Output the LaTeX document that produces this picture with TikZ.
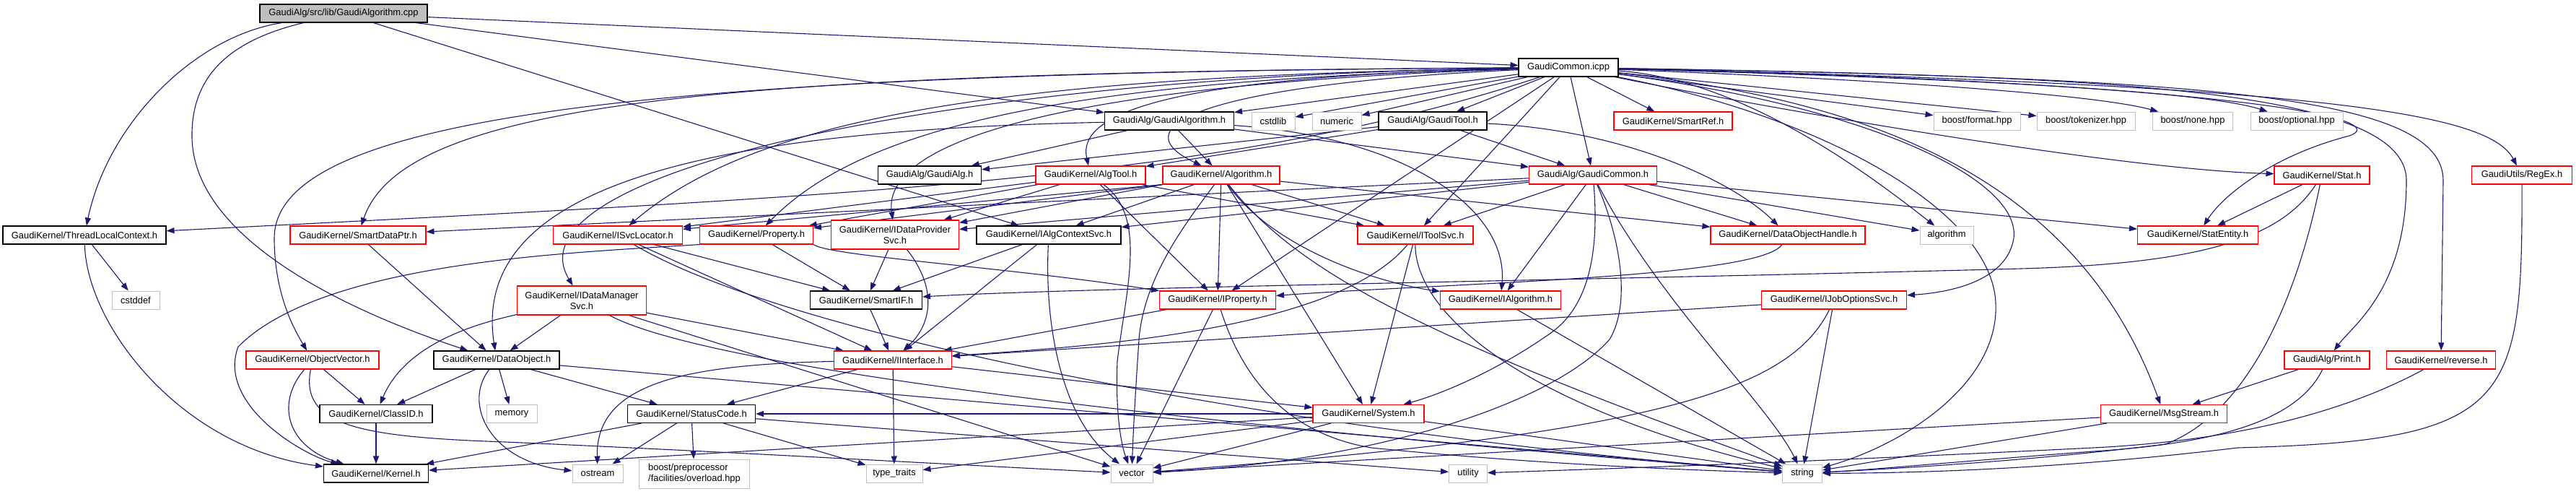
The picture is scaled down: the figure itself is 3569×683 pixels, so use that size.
\documentclass[tikz,border=0pt]{standalone}
\usepackage{fontspec}
\setmainfont{Liberation Sans}
\usetikzlibrary{arrows.meta,backgrounds}
\definecolor{edgeblue}{HTML}{191970}
\definecolor{greyc}{HTML}{BFBFBF}
\definecolor{redc}{HTML}{FF0000}
\newcommand\dgfont{\fontsize{12.9}{15}\selectfont}
\begin{document}
\begin{tikzpicture}[x=1pt,y=-1pt,
  nd/.style={draw=black,line width=1.1pt,fill=white,minimum height=25pt,inner sep=0pt,font=\dgfont},
  rednd/.style={nd,draw=redc},
  grnd/.style={nd,draw=greyc,line width=1pt},
  rootnd/.style={nd,fill=greyc},
  edg/.style={draw=edgeblue,line width=1.1pt,-{Triangle[length=11pt,width=8pt]}}]
\useasboundingbox (0,0) rectangle (3569,683);
% row 0/1
\node[rootnd,minimum width=232pt] (cpp) at (476,18.5) {GaudiAlg/src/lib/GaudiAlgorithm.cpp};
\node[nd,minimum width=138pt] (icpp) at (2173,93.5) {GaudiCommon.icpp};
% row 2
\node[nd,minimum width=179pt] (GAh) at (1620,167.5) {GaudiAlg/GaudiAlgorithm.h};
\node[grnd,minimum width=60pt] (cstdlib) at (1764,167.5) {cstdlib};
\node[grnd,minimum width=68pt] (numeric) at (1852,167.5) {numeric};
\node[nd,minimum width=150pt] (GTh) at (1985,167.5) {GaudiAlg/GaudiTool.h};
\node[rednd,minimum width=164pt] (SmartRef) at (2318,167.5) {GaudiKernel/SmartRef.h};
\node[grnd,minimum width=120pt] (format) at (2739,167.5) {boost/format.hpp};
\node[grnd,minimum width=136pt] (tokenizer) at (2890,167.5) {boost/tokenizer.hpp};
\node[grnd,minimum width=111pt] (none) at (3038,167.5) {boost/none.hpp};
\node[grnd,minimum width=128pt] (optional) at (3182,167.5) {boost/optional.hpp};
% row 3
\node[nd,minimum width=143pt] (GAlgh) at (1288,242.5) {GaudiAlg/GaudiAlg.h};
\node[rednd,minimum width=152pt] (AlgTool) at (1511,242.5) {GaudiKernel/AlgTool.h};
\node[rednd,minimum width=162pt] (Algorithm) at (1692,242.5) {GaudiKernel/Algorithm.h};
\node[rednd,minimum width=177pt] (GCh) at (2207,242.5) {GaudiAlg/GaudiCommon.h};
\node[rednd,minimum width=132pt] (Stat) at (3217,242.5) {GaudiKernel/Stat.h};
\node[rednd,minimum width=139pt] (RegEx) at (3494,242.5) {GaudiUtils/RegEx.h};
% row 4
\node[nd,minimum width=226pt] (TLC) at (117,325.5) {GaudiKernel/ThreadLocalContext.h};
\node[rednd,minimum width=188pt] (SDP) at (496,325.5) {GaudiKernel/SmartDataPtr.h};
\node[rednd,minimum width=179pt] (ISvcLoc) at (856,325.5) {GaudiKernel/ISvcLocator.h};
\node[rednd,minimum width=157pt] (Property) at (1048,325.5) {GaudiKernel/Property.h};
\node[rednd,minimum width=177pt,minimum height=40pt,align=center] (IDPS) at (1240,325) {GaudiKernel/IDataProvider\\Svc.h};
\node[nd,minimum width=200pt] (IACS) at (1453,325.5) {GaudiKernel/IAlgContextSvc.h};
\node[rednd,minimum width=160pt] (IToolSvc) at (1961,325.5) {GaudiKernel/IToolSvc.h};
\node[rednd,minimum width=214pt] (DOH) at (2477,325.5) {GaudiKernel/DataObjectHandle.h};
\node[grnd,minimum width=74pt] (algorithm) at (2697,325.5) {algorithm};
\node[rednd,minimum width=167pt] (StatEntity) at (3045,325.5) {GaudiKernel/StatEntity.h};
% row 5
\node[grnd,minimum width=66pt] (cstddef) at (188,415.5) {cstddef};
\node[rednd,minimum width=179pt,minimum height=40pt,align=center] (IDMS) at (806,416) {GaudiKernel/IDataManager\\Svc.h};
\node[nd,minimum width=155pt] (SmartIF) at (1200,415.5) {GaudiKernel/SmartIF.h};
\node[rednd,minimum width=161pt] (IProperty) at (1687,415.5) {GaudiKernel/IProperty.h};
\node[rednd,minimum width=167pt] (IAlgorithm) at (2079,415.5) {GaudiKernel/IAlgorithm.h};
\node[rednd,minimum width=201pt] (IJOS) at (2541,415.5) {GaudiKernel/IJobOptionsSvc.h};
% row 6
\node[rednd,minimum width=184pt] (ObjVec) at (433,498.5) {GaudiKernel/ObjectVector.h};
\node[nd,minimum width=174pt] (DataObject) at (688,498.5) {GaudiKernel/DataObject.h};
\node[rednd,minimum width=163pt] (IInterface) at (1237,498.5) {GaudiKernel/IInterface.h};
\node[rednd,minimum width=118pt] (Print) at (3224,498.5) {GaudiAlg/Print.h};
\node[rednd,minimum width=151pt] (reverse) at (3382,498.5) {GaudiKernel/reverse.h};
% row 7
\node[nd,minimum width=156pt] (ClassID) at (521,573) {GaudiKernel/ClassID.h};
\node[grnd,minimum width=70pt] (memory) at (709,573) {memory};
\node[nd,minimum width=177pt] (StatusCode) at (958,573) {GaudiKernel/StatusCode.h};
\node[rednd,minimum width=154pt] (System) at (1896,573) {GaudiKernel/System.h};
\node[rednd,minimum width=175pt] (MsgStream) at (2998,573) {GaudiKernel/MsgStream.h};
% row 8
\node[nd,minimum width=145pt] (Kernel) at (521,655.5) {GaudiKernel/Kernel.h};
\node[grnd,minimum width=70pt] (ostream) at (828,655.5) {ostream};
\node[grnd,minimum width=153pt,minimum height=40pt,align=left] (overload) at (962,656) {boost/preprocessor\\/facilities/overload.hpp};
\node[grnd,minimum width=78pt] (typetraits) at (1239,655.5) {type\_traits};
\node[grnd,minimum width=58pt] (vector) at (1568,655.5) {vector};
\node[grnd,minimum width=53pt] (utility) at (2034,655.5) {utility};
\node[grnd,minimum width=55pt] (string) at (2497,655.5) {string};

\begin{scope}[on background layer]
% cpp
\draw[edg] (cpp) .. controls (270,50) and (150,170) .. (TLC);
\draw[edg] (cpp) .. controls (300,60) and (265,120) .. (266,190) .. controls (268,330) and (480,430) .. (DataObject);
\draw[edg] (cpp) -- (IACS);
\draw[edg] (cpp) -- (GAh);
\draw[edg] (cpp) -- (icpp);
% icpp
\draw[edg] (icpp) -- (GAh);
\draw[edg] (icpp) -- (cstdlib);
\draw[edg] (icpp) -- (numeric);
\draw[edg] (icpp) -- (GTh);
\draw[edg] (icpp) -- (SmartRef);
\draw[edg] (icpp) -- (format);
\draw[edg] (icpp) -- (tokenizer);
\draw[edg] (icpp) .. controls (2600,110) and (2900,130) .. (none);
\draw[edg] (icpp) .. controls (2700,108) and (3050,125) .. (optional);
\draw[edg] (icpp) .. controls (1650,105) and (1490,150) .. (AlgTool);
\draw[edg] (icpp) .. controls (1700,115) and (1540,170) .. (Algorithm);
\draw[edg] (icpp) -- (GCh);
\draw[edg] (icpp) .. controls (2500,160) and (2950,235) .. (Stat);
\draw[edg] (icpp) .. controls (3250,118) and (3450,160) .. (RegEx);
\draw[edg] (icpp) .. controls (1700,250) and (1200,270) .. (TLC);
\draw[edg] (icpp) .. controls (1000,100) and (560,140) .. (SDP);
\draw[edg] (icpp) .. controls (1400,105) and (1050,160) .. (ISvcLoc);
\draw[edg] (icpp) .. controls (1500,110) and (1200,170) .. (Property);
\draw[edg] (icpp) .. controls (1500,115) and (1220,190) .. (IDPS);
\draw[edg] (icpp) -- (IToolSvc);
\draw[edg] (icpp) .. controls (2420,110) and (2600,250) .. (algorithm);
\draw[edg] (icpp) .. controls (3100,115) and (3320,165) .. (3255,188) .. controls (3150,215) and (3080,270) .. (StatEntity);
\draw[edg] (icpp) .. controls (1300,105) and (700,240) .. (IDMS);
\draw[edg] (icpp) -- (IProperty);
\draw[edg] (icpp) .. controls (2600,150) and (2800,250) .. (2790,330) .. controls (2780,390) and (2700,405) .. (IJOS);
\draw[edg] (icpp) .. controls (900,100) and (380,160) .. (380,330) .. controls (380,410) and (410,460) .. (ObjVec);
\draw[edg] (icpp) .. controls (2900,105) and (3334,120) .. (3334,250) .. controls (3334,400) and (3260,450) .. (Print);
\draw[edg] (icpp) .. controls (3050,108) and (3385,130) .. (3385,250) -- (reverse);
\draw[edg] (icpp) .. controls (2600,140) and (2880,250) .. (MsgStream);
\draw[edg] (icpp) .. controls (2520,160) and (2760,290) .. (2765,420) .. controls (2770,530) and (2640,615) .. (string);
% GaudiAlgorithm.h
\draw[edg] (GAh) -- (GAlgh);
\draw[edg] (GAh) -- (Algorithm);
\draw[edg] (GAh) -- (GCh);
\draw[edg] (GAh) .. controls (1950,190) and (2090,290) .. (IAlgorithm);
\draw[edg] (GAh) .. controls (1000,180) and (650,250) .. (DataObject);
% GaudiTool.h
\draw[edg] (GTh) -- (GAlgh);
\draw[edg] (GTh) -- (AlgTool);
\draw[edg] (GTh) -- (GCh);
\draw[edg] (GTh) .. controls (2250,180) and (2400,250) .. (DOH);
% AlgTool
\draw[edg] (AlgTool) -- (ISvcLoc);
\draw[edg] (AlgTool) -- (Property);
\draw[edg] (AlgTool) -- (IDPS);
\draw[edg] (AlgTool) -- (IToolSvc);
\draw[edg] (AlgTool) -- (IProperty);
\draw[edg] (AlgTool) .. controls (1590,300) and (1560,400) .. (1548,500) .. controls (1545,580) and (1555,620) .. (vector);
% Algorithm
\draw[edg] (Algorithm.south west) -- (ISvcLoc);
\draw[edg] (Algorithm.south west) -- (Property);
\draw[edg] (Algorithm.south west) -- (IDPS);
\draw[edg] (Algorithm) -- (IACS);
\draw[edg] (Algorithm) -- (IToolSvc);
\draw[edg] (Algorithm) -- (IProperty);
\draw[edg] (Algorithm) .. controls (1760,340) and (1900,390) .. (IAlgorithm);
\draw[edg] (Algorithm) -- (System);
\draw[edg] (Algorithm) .. controls (1650,300) and (1585,380) .. (1578,470) .. controls (1572,560) and (1570,600) .. (vector);
\draw[edg] (Algorithm) .. controls (1800,380) and (1980,470) .. (string);
\draw[edg] (Algorithm) -- (DOH);
% GaudiCommon.h
\draw[edg] (GCh) -- (SDP);
\draw[edg] (GCh) -- (IDPS);
\draw[edg] (GCh) -- (IACS);
\draw[edg] (GCh) -- (IToolSvc);
\draw[edg] (GCh) -- (IAlgorithm);
\draw[edg] (GCh) .. controls (2215,340) and (2205,420) .. (2150,460) .. controls (2080,510) and (2000,545) .. (System);
\draw[edg] (GCh) -- (DOH);
\draw[edg] (GCh) -- (algorithm);
\draw[edg] (GCh) -- (StatEntity);
\draw[edg] (GCh) .. controls (2300,420) and (2450,560) .. (string);
\draw[edg] (GCh) .. controls (2245,330) and (2260,420) .. (2230,470) .. controls (2150,560) and (1900,640) .. (vector);
% Stat
\draw[edg] (Stat) -- (StatEntity);
\draw[edg] (Stat) .. controls (3160,330) and (3050,365) .. (2800,372) .. controls (2200,388) and (1500,398) .. (SmartIF);
\draw[edg] (Stat) .. controls (3185,400) and (3120,570) .. (3000,615) .. controls (2800,640) and (2600,650) .. (string);
% RegEx
\draw[edg] (RegEx) .. controls (3495,560) and (3480,610) .. (3100,620) .. controls (2850,650) and (2650,655) .. (string);
% ThreadLocalContext
\draw[edg] (TLC) -- (cstddef);
\draw[edg] (TLC) .. controls (120,450) and (250,620) .. (Kernel);
% SmartDataPtr
\draw[edg] (SDP) -- (DataObject);
% ISvcLocator
\draw[edg] (ISvcLoc) -- (SmartIF);
\draw[edg] (ISvcLoc) -- (IInterface);
\draw[edg] (ISvcLoc) .. controls (1100,470) and (1800,600) .. (string);
% Property
\draw[edg] (Property.south east) .. controls (1150,355) and (1400,370) .. (IProperty);
\draw[edg] (Property.south west) .. controls (800,350) and (450,360) .. (330,480) .. controls (300,560) and (420,630) .. (Kernel);
\draw[edg] (Property) -- (SmartIF);
% IDataProviderSvc
\draw[edg] (IDPS) .. controls (1300,400) and (1290,450) .. (IInterface);
\draw[edg] (IDPS) -- (SmartIF);
% IAlgContextSvc
\draw[edg] (IACS) -- (SmartIF);
\draw[edg] (IACS) -- (IInterface);
\draw[edg] (IACS) .. controls (1447,450) and (1470,580) .. (vector);
% IToolSvc
\draw[edg] (IToolSvc) -- (System);
\draw[edg] (IToolSvc) .. controls (1850,460) and (1500,480) .. (IInterface);
\draw[edg] (IToolSvc) .. controls (1960,430) and (2100,560) .. (string);
% DataObjectHandle
\draw[edg] (DOH) .. controls (2440,385) and (2000,392) .. (IProperty);
% IDataManagerSvc
\draw[edg] (IDMS) -- (DataObject);
\draw[edg] (IDMS) .. controls (650,450) and (560,480) .. (ClassID);
\draw[edg] (IDMS) -- (IInterface);
\draw[edg] (IDMS) .. controls (1000,520) and (1800,600) .. (string);
\draw[edg] (IDMS) -- (vector);
% SmartIF
\draw[edg] (SmartIF) -- (IInterface);
% IProperty
\draw[edg] (IProperty) -- (IInterface);
\draw[edg] (IProperty) -- (vector);
\draw[edg] (IProperty) .. controls (1720,520) and (1780,600) .. (1900,620) .. controls (2100,640) and (2300,650) .. (string);
% IAlgorithm
\draw[edg] (IAlgorithm) -- (string);
% IJobOptionsSvc
\draw[edg] (IJOS) -- (IInterface);
\draw[edg] (IJOS) -- (string);
\draw[edg] (IJOS) .. controls (2480,540) and (2300,600) .. (vector);
% ObjectVector
\draw[edg] (ObjVec) -- (ClassID);
\draw[edg] (ObjVec) .. controls (380,560) and (400,620) .. (Kernel);
\draw[edg] (ObjVec) .. controls (415,590) and (500,605) .. (700,612) .. controls (1000,625) and (1350,645) .. (vector);
% DataObject
\draw[edg] (DataObject) -- (ClassID);
\draw[edg] (DataObject) -- (StatusCode);
\draw[edg] (DataObject) -- (memory);
\draw[edg] (DataObject) .. controls (640,560) and (680,640) .. (ostream);
\draw[edg] (DataObject) -- (string);
% IInterface
\draw[edg] (IInterface) -- (StatusCode);
\draw[edg] (IInterface) .. controls (950,505) and (825,530) .. (ostream);
\draw[edg] (IInterface) -- (typetraits);
\draw[edg] (IInterface) -- (System);
% ClassID
\draw[edg] (ClassID) -- (Kernel);
% StatusCode
\draw[edg] (StatusCode) -- (Kernel);
\draw[edg] (StatusCode) -- (ostream);
\draw[edg] (StatusCode) -- (overload);
\draw[edg] (StatusCode) -- (typetraits);
\draw[edg] (StatusCode) -- (utility);
% System
\draw[edg] (System) -- (string);
\draw[edg] (System) -- (vector);
\draw[edg] (System) -- (typetraits);
\draw[edg] (System) -- (StatusCode);
\draw[edg] (System) -- (Kernel);
% MsgStream
\draw[edg] (MsgStream) -- (string);
\draw[edg] (MsgStream) -- (vector);
% Print
\draw[edg] (Print) -- (MsgStream);
\draw[edg] (Print) .. controls (3180,590) and (3050,615) .. (2900,625) .. controls (2700,640) and (2600,650) .. (string);
% reverse
\draw[edg] (reverse) .. controls (3250,570) and (3100,610) .. (2900,620) .. controls (2500,640) and (2200,650) .. (utility);
\end{scope}
\end{tikzpicture}
\end{document}
